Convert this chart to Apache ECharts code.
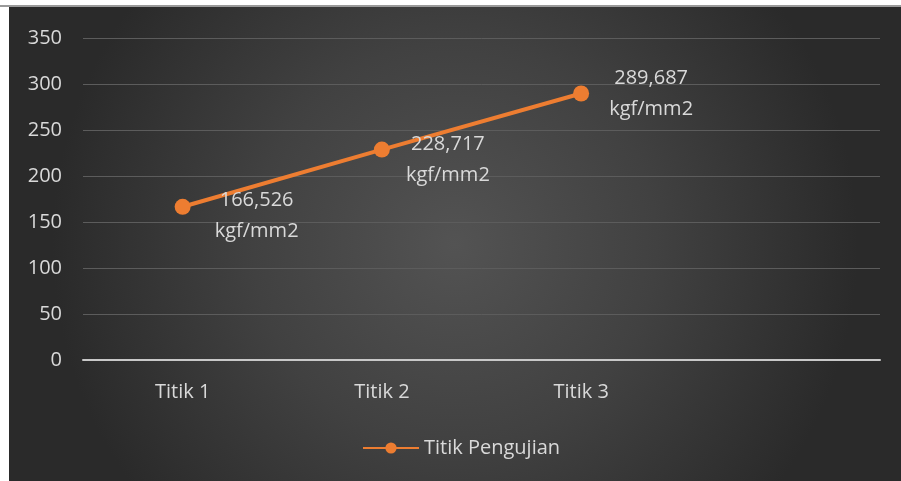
<!DOCTYPE html>
<html>
<head>
<meta charset="utf-8">
<script src="https://cdn.jsdelivr.net/npm/echarts@6/dist/echarts.min.js"></script>
<style>
  html, body { margin: 0; padding: 0; background: #ffffff; }
  #chart { width: 901px; height: 481px; }
</style>
</head>
<body>
<div id="chart"></div>
<script>
// Test points along the specimen
const categories = ['Titik 1', 'Titik 2', 'Titik 3', ''];
// Hardness values (kgf/mm2) for each point
const hardness = [166.526, 228.717, 289.687];
const seriesName = 'Titik Pengujian';
const unit = 'kgf/mm2';
// Label offsets next to each marker
const labelOffsets = [[74, 9], [66, 10], [70, 0]];

const chart = echarts.init(document.getElementById('chart'));

const textColor = '#d9d9d9';
const font = '"Open Sans", sans-serif';
const fontSize = 20;

chart.setOption({
  backgroundColor: '#ffffff',
  graphic: [{
    type: 'rect',
    z: -10,
    silent: true,
    shape: { x: 9, y: 7, width: 892, height: 474 },
    style: {
      fill: new echarts.graphic.RadialGradient(0.5, 0.5, 0.85, [
        { offset: 0, color: '#535353' },
        { offset: 0.5, color: '#414141' },
        { offset: 1, color: '#2a2a2a' }
      ])
    }
  }, {
    type: 'rect',
    z: -9,
    silent: true,
    shape: { x: 0, y: 5, width: 901, height: 2 },
    style: { fill: '#9a9a9a' }
  }],
  grid: { left: 83, right: 21, top: 38, bottom: 121 },
  legend: {
    data: [seriesName],
    left: 357,
    top: 433,
    itemWidth: 56,
    itemHeight: 14,
    itemGap: 4,
    textStyle: { color: textColor, fontSize: fontSize, fontFamily: font }
  },
  xAxis: {
    type: 'category',
    data: categories,
    boundaryGap: true,
    axisLine: { lineStyle: { color: '#c8c8c8', width: 2 } },
    axisTick: { show: false },
    axisLabel: { color: textColor, fontSize: fontSize, fontFamily: font, margin: 22 },
    splitLine: { show: false }
  },
  yAxis: {
    type: 'value',
    min: 0,
    max: 350,
    interval: 50,
    axisLine: { show: false },
    axisTick: { show: false },
    axisLabel: { color: textColor, fontSize: fontSize, fontFamily: font, margin: 21 },
    splitLine: { lineStyle: { color: '#5c5c5c', width: 1 } }
  },
  series: [{
    name: seriesName,
    type: 'line',
    data: hardness.map((v, i) => ({
      value: v,
      label: { offset: labelOffsets[i] }
    })),
    symbol: 'circle',
    symbolSize: 16,
    lineStyle: { color: '#ED7D31', width: 4 },
    itemStyle: { color: '#ED7D31' },
    label: {
      show: true,
      position: 'inside',
      align: 'center',
      verticalAlign: 'middle',
      color: textColor,
      fontSize: fontSize,
      lineHeight: 31,
      fontFamily: font,
      formatter: p => p.value.toFixed(3).replace('.', ',') + '\n' + unit
    }
  }]
});
</script>
</body>
</html>
